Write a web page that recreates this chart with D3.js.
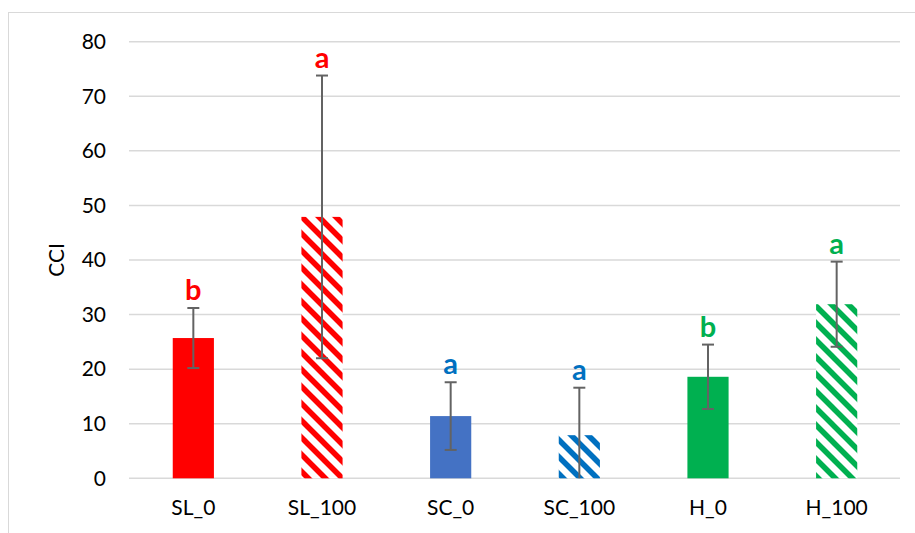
<!DOCTYPE html>
<html>
<head>
<meta charset="utf-8">
<script src="https://cdn.jsdelivr.net/npm/d3@7"></script>
<style>
html,body{margin:0;padding:0;background:#fff;}
svg{display:block;}
</style>
</head>
<body>
<svg id="chart" width="915" height="533"></svg>
<script>
const categories = ["SL_0", "SL_100", "SC_0", "SC_100", "H_0", "H_100"];
const means = [25.7, 47.9, 11.4, 7.9, 18.6, 31.9];
const errors = [5.5, 25.9, 6.2, 8.7, 5.9, 7.8];
const letters = ["b", "a", "a", "a", "b", "a"];
const colors = ["#FF0000", "#FF0000", "#4472C4", "#0070C0", "#00B050", "#00B050"];
const letterColors = ["#FF0000", "#FF0000", "#0070C0", "#0070C0", "#00B050", "#00B050"];
const hatched = [false, true, false, true, false, true];
const yTicks = [0, 10, 20, 30, 40, 50, 60, 70, 80];
const yLabel = "CCI";

(function () {
const svg = d3.select("#chart");
const mLeft = 129, mRight = 901, mTop = 41.7, mBottom = 478.3;

// chart border
svg.append("rect").attr("x", 8.5).attr("y", 12.5).attr("width", 1000).attr("height", 1000)
  .attr("fill", "none").attr("stroke", "#D9D9D9").attr("stroke-width", 1);

const x = d3.scaleBand().domain(categories).range([mLeft, mRight]).paddingInner(0.68).paddingOuter(0.34);
const y = d3.scaleLinear().domain([0, 80]).range([mBottom, mTop]);

// patterns
const defs = svg.append("defs");
const uniq = Array.from(new Set(colors.filter((c, i) => hatched[i])));
uniq.forEach(c => {
  const p = defs.append("pattern").attr("id", "hatch" + c.slice(1))
    .attr("patternUnits", "userSpaceOnUse").attr("width", 17).attr("height", 17);
  p.append("rect").attr("width", 17).attr("height", 17).attr("fill", "#fff");
  p.append("path").attr("d", "M-5,-5 L22,22 M-5,12 L5,22 M12,-5 L22,5")
    .attr("stroke", c).attr("stroke-width", 5.6).attr("fill", "none");
});

// gridlines
svg.append("g").selectAll("line").data(yTicks).join("line")
  .attr("x1", mLeft).attr("x2", mRight - 1)
  .attr("y1", d => y(d)).attr("y2", d => y(d))
  .attr("stroke", "#D9D9D9").attr("stroke-width", 1.5);

// y axis labels
const yAxis = d3.axisLeft(y).tickValues(yTicks).tickSize(0).tickPadding(0);
const ya = svg.append("g").attr("transform", `translate(106,0)`).call(yAxis);
ya.select(".domain").remove();
ya.selectAll("text").attr("font-family", "Lato, sans-serif").attr("font-size", 21).attr("fill", "#000");

// x axis labels
const xAxis = d3.axisBottom(x).tickSize(0).tickPadding(0);
const xa = svg.append("g").attr("transform", `translate(0,500)`).call(xAxis);
xa.select(".domain").remove();
xa.selectAll("text").attr("font-family", "Lato, sans-serif").attr("font-size", 21).attr("fill", "#000");

// y title
svg.append("text").attr("transform", "translate(64,260) rotate(-90)")
  .attr("text-anchor", "middle").attr("font-family", "Lato, sans-serif").attr("font-size", 21)
  .attr("fill", "#000").text(yLabel);

// bars
svg.append("g").selectAll("rect").data(categories).join("rect")
  .attr("x", d => x(d)).attr("width", x.bandwidth())
  .attr("y", (d, i) => y(means[i])).attr("height", (d, i) => y(0) - y(means[i]))
  .attr("fill", (d, i) => hatched[i] ? `url(#hatch${colors[i].slice(1)})` : colors[i]);

// error bars
const eb = svg.append("g").attr("stroke", "#636363").attr("stroke-width", 2);
categories.forEach((c, i) => {
  const cx = x(c) + x.bandwidth() / 2;
  const hi = means[i] + errors[i];
  const lo = Math.max(0, means[i] - errors[i]);
  eb.append("line").attr("x1", cx).attr("x2", cx).attr("y1", y(hi)).attr("y2", y(lo));
  eb.append("line").attr("x1", cx - 6).attr("x2", cx + 6).attr("y1", y(hi)).attr("y2", y(hi));
  if (means[i] - errors[i] > 0) {
    eb.append("line").attr("x1", cx - 6).attr("x2", cx + 6).attr("y1", y(lo)).attr("y2", y(lo));
  }
});

// letters
svg.append("g").selectAll("text").data(categories).join("text")
  .attr("x", d => x(d) + x.bandwidth() / 2)
  .attr("y", (d, i) => y(means[i] + errors[i]) - 8)
  .attr("text-anchor", "middle").attr("font-family", "Lato, sans-serif")
  .attr("font-weight", "bold").attr("font-size", 29)
  .attr("fill", (d, i) => letterColors[i]).text((d, i) => letters[i]);
})();
</script>
</body>
</html>
